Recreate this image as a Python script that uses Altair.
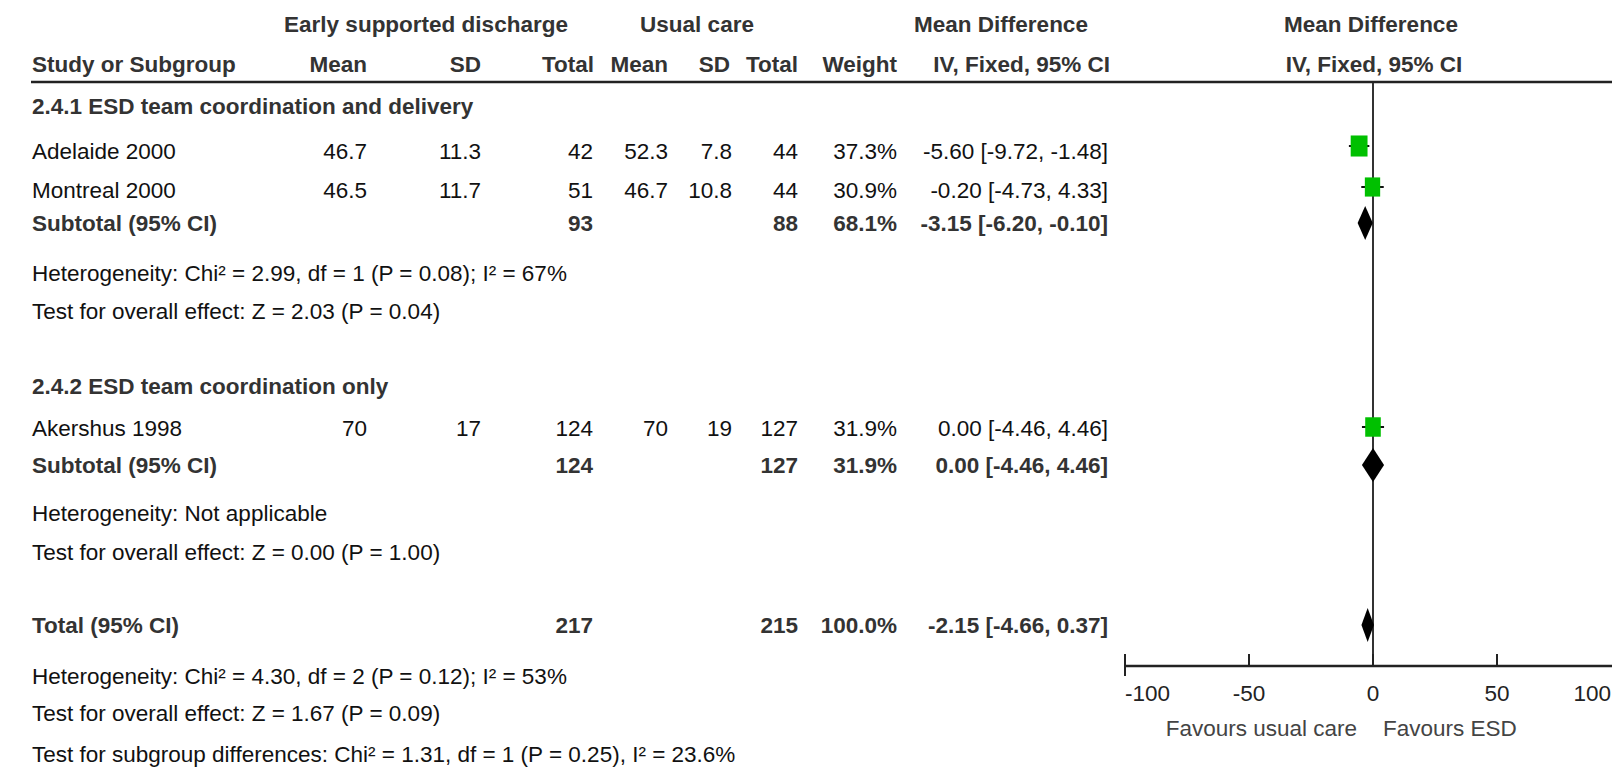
import altair as alt
import pandas as pd

# ---------------- data ----------------
study = ["Adelaide 2000", "Montreal 2000", "Akershus 1998"]
esd_mean = ["46.7", "46.5", "70"]
esd_sd = ["11.3", "11.7", "17"]
esd_n = ["42", "51", "124"]
uc_mean = ["52.3", "46.7", "70"]
uc_sd = ["7.8", "10.8", "19"]
uc_n = ["44", "44", "127"]
weight = [37.3, 30.9, 31.9]
md = [-5.60, -0.20, 0.00]
md_lo = [-9.72, -4.73, -4.46]
md_hi = [-1.48, 4.33, 4.46]

pooled_label = ["Subtotal (95% CI)", "Subtotal (95% CI)", "Total (95% CI)"]
pooled_esd_n = ["93", "124", "217"]
pooled_uc_n = ["88", "127", "215"]
pooled_weight = [68.1, 31.9, 100.0]
pooled_md = [-3.15, 0.00, -2.15]
pooled_lo = [-6.20, -4.46, -4.66]
pooled_hi = [-0.10, 4.46, 0.37]

group_title = ["2.4.1 ESD team coordination and delivery",
               "2.4.2 ESD team coordination only"]
notes = [
    ["Heterogeneity: Chi² = 2.99, df = 1 (P = 0.08); I² = 67%",
     "Test for overall effect: Z = 2.03 (P = 0.04)"],
    ["Heterogeneity: Not applicable",
     "Test for overall effect: Z = 0.00 (P = 1.00)"],
    ["Heterogeneity: Chi² = 4.30, df = 2 (P = 0.12); I² = 53%",
     "Test for overall effect: Z = 1.67 (P = 0.09)",
     "Test for subgroup differences: Chi² = 1.31, df = 1 (P = 0.25), I² = 23.6%"],
]
header_top = ["Early supported discharge", "Usual care", "Mean Difference", "Mean Difference"]
header_cols = ["Study or Subgroup", "Mean", "SD", "Total", "Mean", "SD", "Total",
               "Weight", "IV, Fixed, 95% CI", "IV, Fixed, 95% CI"]
axis_ticks = [-100, -50, 0, 50, 100]
favours = ["Favours usual care", "Favours ESD"]

# ---------------- layout (page pixels) ----------------
OFF = 8
W, H = 1604, 760
FONT = "Liberation Sans"
FS = 22.5
CAP = 8  # cap centre -> baseline

ROW_H1, ROW_H2, RULE_Y = 24, 64, 82
ROW_GROUP = [106, 386]
ROW_STUDY = [151, 190, 428]
MARK_STUDY = [146, 187, 427]
ROW_POOLED = [223, 465, 625]
ROW_NOTES = [[273, 311], [513, 552], [676, 713, 754]]
AXIS_Y = 666
TICK_LABEL_Y = 693
FAV_Y = 728
X_LEFT, X_RIGHT = 1125, 1621
DIAMOND_HALF = 17

COLX = {"name": 32, "esd_mean": 367, "esd_sd": 481, "esd_n": 593, "uc_mean": 668,
        "uc_sd": 732, "uc_n": 798, "weight": 897, "ci": 1108}


def cx(v):
    return v - OFF


def cy(v):
    return v - OFF


def base(v):
    return v + CAP - OFF


texts = []


def add(text, x, y, align="left", bold=False):
    texts.append({"text": text, "x": cx(x), "y": base(y), "align": align, "bold": bold})


# headers
add(header_top[0], 426, ROW_H1, "center", True)
add(header_top[1], 697, ROW_H1, "center", True)
add(header_top[2], 1001, ROW_H1, "center", True)
add(header_top[3], 1371, ROW_H1, "center", True)
add(header_cols[0], COLX["name"], ROW_H2, "left", True)
add(header_cols[1], COLX["esd_mean"], ROW_H2, "right", True)
add(header_cols[2], COLX["esd_sd"], ROW_H2, "right", True)
add(header_cols[3], COLX["esd_n"] + 1, ROW_H2, "right", True)
add(header_cols[4], COLX["uc_mean"], ROW_H2, "right", True)
add(header_cols[5], COLX["uc_sd"] - 2, ROW_H2, "right", True)
add(header_cols[6], COLX["uc_n"], ROW_H2, "right", True)
add(header_cols[7], COLX["weight"], ROW_H2, "right", True)
add(header_cols[8], COLX["ci"] + 2, ROW_H2, "right", True)
add(header_cols[9], 1374, ROW_H2, "center", True)

for g in range(2):
    add(group_title[g], COLX["name"], ROW_GROUP[g], "left", True)
for i in range(3):
    y = ROW_STUDY[i]
    add(study[i], COLX["name"], y)
    add(esd_mean[i], COLX["esd_mean"], y, "right")
    add(esd_sd[i], COLX["esd_sd"], y, "right")
    add(esd_n[i], COLX["esd_n"], y, "right")
    add(uc_mean[i], COLX["uc_mean"], y, "right")
    add(uc_sd[i], COLX["uc_sd"], y, "right")
    add(uc_n[i], COLX["uc_n"], y, "right")
    add(f"{weight[i]:.1f}%", COLX["weight"], y, "right")
    add(f"{md[i]:.2f} [{md_lo[i]:.2f}, {md_hi[i]:.2f}]", COLX["ci"], y, "right")
for i in range(3):
    y = ROW_POOLED[i]
    add(pooled_label[i], COLX["name"], y, "left", True)
    add(pooled_esd_n[i], COLX["esd_n"], y, "right", True)
    add(pooled_uc_n[i], COLX["uc_n"], y, "right", True)
    add(f"{pooled_weight[i]:.1f}%", COLX["weight"], y, "right", True)
    add(f"{pooled_md[i]:.2f} [{pooled_lo[i]:.2f}, {pooled_hi[i]:.2f}]", COLX["ci"], y, "right", True)
    for j, line in enumerate(notes[i]):
        add(line, COLX["name"], ROW_NOTES[i][j])

tdf = pd.DataFrame(texts)

layers = []
for (align, bold), sub in tdf.groupby(["align", "bold"]):
    layers.append(
        alt.Chart(sub).mark_text(
            align=align, baseline="alphabetic", font=FONT, fontSize=FS,
            fontWeight="bold" if bold else "normal",
            color="#333333" if bold else "#111111",
        ).encode(
            x=alt.X("x:Q", scale=None, axis=None),
            y=alt.Y("y:Q", scale=None, axis=None),
            text="text:N",
        )
    )

# header rule
layers.append(
    alt.Chart(pd.DataFrame({"k": [0]})).mark_rule(color="#222222", strokeWidth=2.5).encode(
        x=alt.value(cx(31)), x2=alt.value(W), y=alt.value(cy(RULE_Y))
    )
)

fx = alt.Scale(domain=[axis_ticks[0], axis_ticks[-1]], range=[cx(X_LEFT), cx(X_RIGHT)],
               nice=False, zero=False)

# zero line
layers.append(
    alt.Chart(pd.DataFrame({"v": [0]})).mark_rule(color="#333333", strokeWidth=2).encode(
        x=alt.X("v:Q", scale=fx, axis=None), y=alt.value(cy(RULE_Y + 1)), y2=alt.value(cy(AXIS_Y))
    )
)

# axis line, ticks, labels
layers.append(
    alt.Chart(pd.DataFrame({"lo": [axis_ticks[0]], "hi": [axis_ticks[-1]]}))
    .mark_rule(color="#222222", strokeWidth=2.5)
    .encode(x=alt.X("lo:Q", scale=fx, axis=None), x2="hi:Q", y=alt.value(cy(AXIS_Y)))
)
tick_df = pd.DataFrame({"t": axis_ticks, "lab": [str(t) for t in axis_ticks]})
layers.append(
    alt.Chart(tick_df).mark_rule(color="#222222", strokeWidth=2).encode(
        x=alt.X("t:Q", scale=fx, axis=None), y=alt.value(cy(AXIS_Y - 12)), y2=alt.value(cy(AXIS_Y + 1))
    )
)
layers.append(
    alt.Chart(tick_df.iloc[[0, -1]]).mark_rule(color="#222222", strokeWidth=2).encode(
        x=alt.X("t:Q", scale=fx, axis=None), y=alt.value(cy(AXIS_Y)), y2=alt.value(cy(AXIS_Y + 10))
    )
)
for sel, align, dx in (([0], "left", 0), ([1, 2, 3], "center", 0), ([4], "right", -10)):
    layers.append(
        alt.Chart(tick_df.iloc[sel]).mark_text(
            align=align, baseline="alphabetic", font=FONT, fontSize=FS, color="#222222", dx=dx
        ).encode(
            x=alt.X("t:Q", scale=fx, axis=None), y=alt.value(base(TICK_LABEL_Y)), text="lab:N"
        )
    )
fav_df = pd.DataFrame({"v": [0, 0], "lab": favours})
layers.append(
    alt.Chart(fav_df.iloc[[0]]).mark_text(
        align="right", baseline="alphabetic", font=FONT, fontSize=FS, color="#444444", dx=-16
    ).encode(x=alt.X("v:Q", scale=fx, axis=None), y=alt.value(base(FAV_Y)), text="lab:N")
)
layers.append(
    alt.Chart(fav_df.iloc[[1]]).mark_text(
        align="left", baseline="alphabetic", font=FONT, fontSize=FS, color="#444444", dx=10
    ).encode(x=alt.X("v:Q", scale=fx, axis=None), y=alt.value(base(FAV_Y)), text="lab:N")
)

# study CIs and squares
sdf = pd.DataFrame({"md": md, "lo": md_lo, "hi": md_hi, "w": weight,
                    "y": [cy(v) for v in MARK_STUDY]})
layers.append(
    alt.Chart(sdf).mark_rule(color="#111111", strokeWidth=2).encode(
        x=alt.X("lo:Q", scale=fx, axis=None), x2="hi:Q", y=alt.Y("y:Q", scale=None, axis=None)
    )
)
layers.append(
    alt.Chart(sdf).mark_point(
        shape="M-1,-1.25L1,-1.25L1,1.25L-1,1.25Z", filled=True, opacity=1,
        color="#00C000", strokeWidth=0,
    ).encode(
        x=alt.X("md:Q", scale=fx, axis=None),
        y=alt.Y("y:Q", scale=None, axis=None),
        size=alt.Size("w:Q", scale=alt.Scale(domain=[0, 100], range=[0, 760]), legend=None),
    )
)

# pooled diamonds
for i in range(3):
    yc = cy(ROW_POOLED[i])
    ddf = pd.DataFrame({
        "x": [pooled_lo[i], pooled_md[i], pooled_hi[i]],
        "y1": [yc, yc - DIAMOND_HALF, yc],
        "y2": [yc, yc + DIAMOND_HALF, yc],
    })
    layers.append(
        alt.Chart(ddf).mark_area(color="black", orient="vertical", interpolate="linear").encode(
            x=alt.X("x:Q", scale=fx, axis=None),
            y=alt.Y("y1:Q", scale=None, axis=None, stack=None),
            y2="y2:Q",
        )
    )

chart = (
    alt.layer(*layers)
    .resolve_scale(x="independent", y="independent", size="independent")
    .properties(width=W, height=H, padding=0, autosize=alt.AutoSizeParams(type="none"))
    .configure_view(stroke=None)
)

chart.save("out.html", embed_options={"renderer": "svg", "actions": False})
